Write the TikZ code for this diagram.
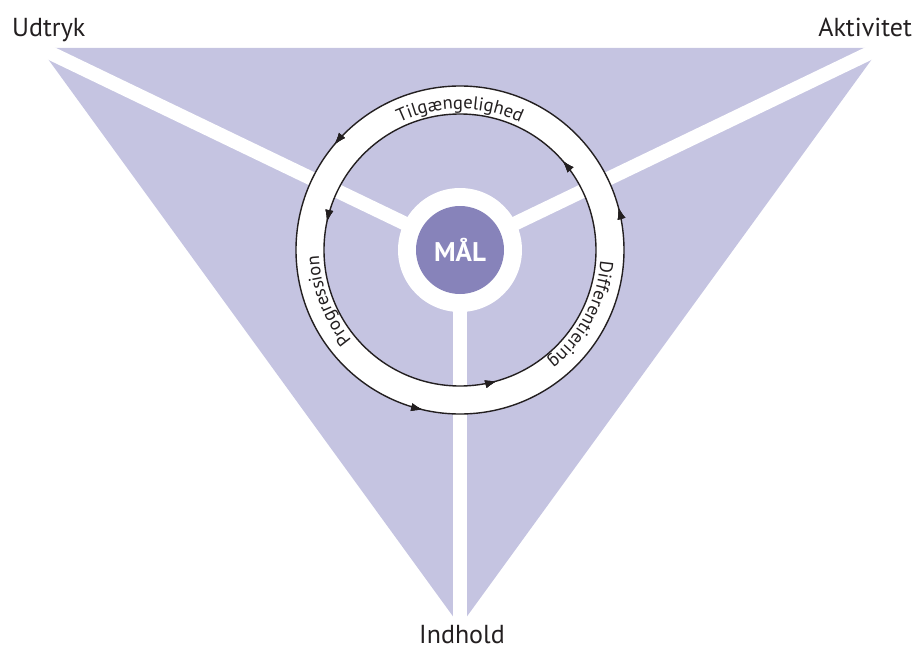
\documentclass[tikz,border=0pt]{standalone}
\usepackage{fontspec}
\setmainfont{PT Sans}
\usetikzlibrary{arrows.meta,calc,decorations.text,decorations.markings}
\definecolor{malLilac}{RGB}{197,196,225}
\definecolor{malPurple}{RGB}{135,131,186}
\definecolor{malText}{RGB}{35,31,32}
\newcommand{\ringfont}{\fontsize{18.5}{20}\selectfont}

\begin{document}
\begin{tikzpicture}[x=1pt, y=1pt,
  spoke/.style={white, line width=14pt},
  cornerlabel/.style={font=\fontsize{26}{30}\selectfont, text=malText, inner sep=0pt},
  ringline/.style={malText, line width=1.4pt},
  ringtip/.style={postaction={decorate}, decoration={markings,
      mark=at position #1 with {\arrow{Latex[length=12pt,width=8pt]}}}},
  ringtext/.style={decorate, decoration={text along path, text align=center, text color=malText, text={|\ringfont|#1}}}]
  \useasboundingbox (-460,-398) rectangle (457,250);
  \coordinate (mid) at (0,0);
  \coordinate (tl) at (-420,202);
  \coordinate (tr) at (420,202);
  \coordinate (bt) at (0,-376);
  % triangle and spokes
  \fill[malLilac] (tl) -- (tr) -- (bt) -- cycle;
  \draw[spoke] (mid) -- ($(mid)!1.08!(tl)$);
  \draw[spoke] (mid) -- ($(mid)!1.08!(tr)$);
  \draw[spoke] (mid) -- ($(mid)!1.08!(bt)$);
  % ring
  \fill[white, even odd rule] (mid) circle[radius=164] (mid) circle[radius=136];
  \draw[ringline, ringtip=0.042, ringtip=0.389, ringtip=0.714] (mid) circle[radius=164];
  \draw[ringline, ringtip=0.114, ringtip=0.467, ringtip=0.794] (mid) circle[radius=136];
  \path[ringtext=Tilgængelighed] (130:141) arc[start angle=130, end angle=50, radius=141];
  \path[ringtext=Differentiering] (17:141) arc[start angle=17, end angle=-73, radius=141];
  \path[ringtext=Progression] (245:141) arc[start angle=245, end angle=157, radius=141];
  % centre
  \fill[white] (mid) circle[radius=62];
  \node[circle, fill=malPurple, minimum size=88pt, inner sep=0pt, text=white,
    font=\fontsize{27}{30}\selectfont\bfseries] (mal) at (mid) {MÅL};
  % corner labels
  \node[cornerlabel, anchor=base west] (udtryk) at (-448,213) {Udtryk};
  \node[cornerlabel, anchor=base east] (aktivitet) at (452,213) {Aktivitet};
  \node[cornerlabel, anchor=base] (indhold) at (2,-393) {Indhold};
\end{tikzpicture}
\end{document}
